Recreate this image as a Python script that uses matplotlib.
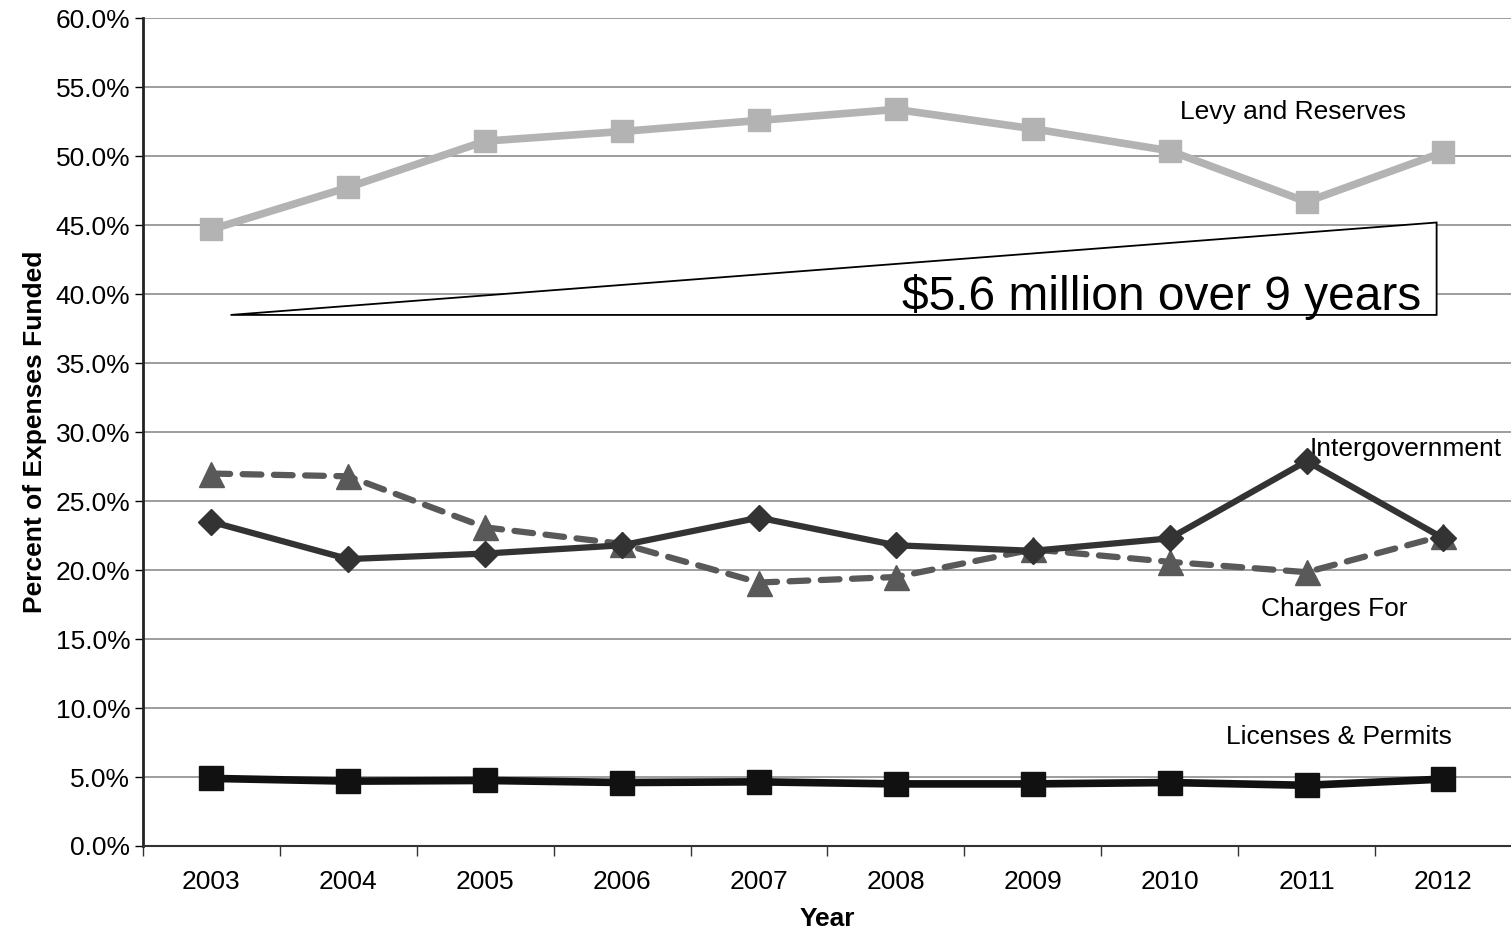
import matplotlib.pyplot as plt
import numpy as np
from matplotlib.patches import Polygon
from matplotlib.ticker import FuncFormatter, FixedLocator

plt.rcParams['font.family'] = ['Liberation Sans', 'DejaVu Sans']

years = ['2003', '2004', '2005', '2006', '2007', '2008', '2009', '2010', '2011', '2012']
levy = [44.7, 47.75, 51.1, 51.8, 52.6, 53.4, 52.0, 50.4, 46.7, 50.3]
intergov = [23.5, 20.8, 21.2, 21.8, 23.8, 21.8, 21.4, 22.3, 27.9, 22.3]
charges = [27.0, 26.8, 23.1, 21.9, 19.1, 19.5, 21.5, 20.6, 19.85, 22.5]
licenses = [4.9, 4.7, 4.75, 4.6, 4.65, 4.5, 4.5, 4.6, 4.4, 4.85]

x = np.arange(len(years))

fig = plt.figure(figsize=(15.11, 9.32), dpi=100)
ax = fig.add_axes([0.0946, 0.0923, 0.906, 0.888])

# gridlines
ax.set_axisbelow(True)
ax.yaxis.grid(True, color='#8c8c8c', linewidth=1.2)

ax.plot(x, levy, color='#b3b3b3', lw=5.5, marker='s', ms=16, mec='#b3b3b3', zorder=3)
ax.plot(x, charges, color='#595959', lw=4.5, ls=(0, (3, 2)), dash_capstyle='round',
        marker='^', ms=18, mec='#595959', zorder=4)
ax.plot(x, intergov, color='#333333', lw=4.5, marker='D', ms=13, mec='#333333', zorder=5)
ax.plot(x, licenses, color='#111111', lw=5.5, marker='s', ms=17, mec='#111111', zorder=5)

# annotation triangle
tri = Polygon([[0.14, 38.5], [8.95, 45.2], [8.95, 38.5]], closed=True,
              facecolor='white', edgecolor='black', lw=1.3, zorder=2)
ax.add_patch(tri)
ax.text(8.84, 38.85, '$5.6 million over 9 years', fontsize=34.5, ha='right', va='baseline', zorder=3)

# series labels
ax.text(7.9, 53.2, 'Levy and Reserves', fontsize=19, ha='center', va='center')
ax.text(8.02, 28.8, 'Intergovernment', fontsize=19, ha='left', va='center')
ax.text(8.2, 17.2, 'Charges For', fontsize=19, ha='center', va='center')
ax.text(8.24, 7.9, 'Licenses & Permits', fontsize=19, ha='center', va='center')

ax.set_xlim(-0.5, 9.5)
ax.set_ylim(0, 60)
ax.set_yticks(np.arange(0, 61, 5))
ax.yaxis.set_major_formatter(FuncFormatter(lambda v, p: '%.1f%%' % v))
ax.set_xticks(x)
ax.set_xticklabels(years)
ax.xaxis.set_minor_locator(FixedLocator(np.arange(-0.5, 9.6, 1)))
ax.tick_params(axis='x', which='major', length=0, labelsize=19, pad=17)
ax.tick_params(axis='x', which='minor', length=7, width=1, color='#333333')
ax.tick_params(axis='y', length=6, width=1, labelsize=19, pad=3)

ax.set_ylabel('Percent of Expenses Funded', fontsize=19, fontweight='bold', labelpad=6)
ax.set_xlabel('Year', fontsize=19, fontweight='bold', labelpad=10)

ax.spines['top'].set_visible(False)
ax.spines['right'].set_visible(False)
ax.spines['left'].set_linewidth(2)
ax.spines['bottom'].set_linewidth(1.5)
ax.spines['left'].set_color('#222222')
ax.spines['bottom'].set_color('#333333')

fig.savefig('out.png', dpi=100)
